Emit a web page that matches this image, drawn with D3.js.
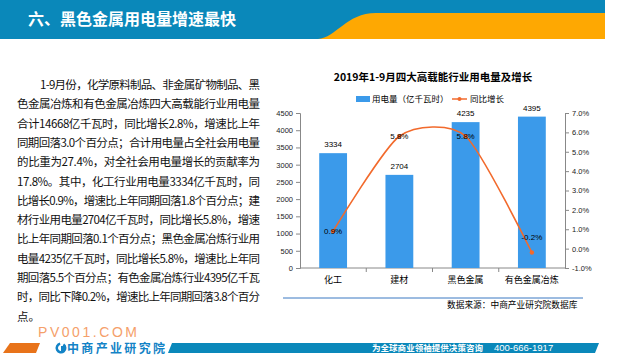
<!DOCTYPE html>
<html>
<head>
<meta charset="utf-8">
<script src="https://cdn.jsdelivr.net/npm/d3@7"></script>
<style>
  html, body { margin: 0; padding: 0; background: #fff; }
  svg { display: block; font-family: "Noto Sans CJK SC", "Liberation Sans", sans-serif; }
</style>
</head>
<body>
<svg id="chart" width="640" height="360"></svg>
<script>
// chart data
const categories = ['化工', '建材', '黑色金属', '有色金属冶炼'];
const usage = [3334, 2704, 4235, 4395];      // 用电量（亿千瓦时）
const growth = [0.9, 5.8, 5.8, -0.2];        // 同比增长 %
const leftTicks = [0, 500, 1000, 1500, 2000, 2500, 3000, 3500, 4000, 4500];
const rightTicks = [-1, 0, 1, 2, 3, 4, 5, 6, 7];

const pageTitle = '六、黑色金属用电量增速最快';
const chartTitle = '2019年1-9月四大高载能行业用电量及增长';
const legendNames = ['用电量（亿千瓦时）', '同比增长'];
const sourceText = '数据来源：中商产业研究院数据库';

const paragraph = [
    '1-9月份，化学原料制品、非金属矿物制品、黑',
    '色金属冶炼和有色金属冶炼四大高载能行业用电量',
    '合计14668亿千瓦时，同比增长2.8%，增速比上年',
    '同期回落3.0个百分点；合计用电量占全社会用电量',
    '的比重为27.4%，对全社会用电量增长的贡献率为',
    '17.8%。其中，化工行业用电量3334亿千瓦时，同',
    '比增长0.9%，增速比上年同期回落1.8个百分点；建',
    '材行业用电量2704亿千瓦时，同比增长5.8%，增速',
    '比上年同期回落0.1个百分点；黑色金属冶炼行业用',
    '电量4235亿千瓦时，同比增长5.8%，增速比上年同',
    '期回落5.5个百分点；有色金属冶炼行业4395亿千瓦',
    '时，同比下降0.2%，增速比上年同期回落3.8个百分',
    '点。'
];

const blue = '#0a88ba';
const barColor = '#3b9aea';
const lineColor = '#f26a2c';

const svg = d3.select('#chart');

// header bar
svg.append('rect').attr('x', 0).attr('y', 0).attr('width', 605).attr('height', 39).attr('fill', blue);
svg.append('path')
    .attr('d', 'M318,39 C336,38 346,13 376,13 L605,13 L605,39 Z')
    .attr('fill', '#fea802');
svg.append('text')
    .attr('x', 28).attr('y', 25)
    .attr('fill', '#fff')
    .attr('font-size', 16)
    .attr('font-weight', 'bold')
    .text(pageTitle);

// paragraph, justified line by line
const para = svg.append('g').attr('font-size', 11.5).attr('fill', '#111');
paragraph.forEach((line, i) => {
    const x0 = i === 0 ? 40 : 17;
    const t = para.append('text')
        .attr('x', x0)
        .attr('y', 89 + i * 19.3)
        .text(line);
    if (i < paragraph.length - 1) {
        t.attr('textLength', 260 - x0).attr('lengthAdjust', 'spacing');
    }
});

// scales
const x = d3.scaleBand().domain(categories).range([300, 565]);
const yL = d3.scaleLinear().domain([0, 4500]).range([268, 113]);
const yR = d3.scaleLinear().domain([-1, 7]).range([268, 113]);
const bw = x.bandwidth();

// chart title
svg.append('text')
    .attr('x', 433).attr('y', 81)
    .attr('text-anchor', 'middle')
    .attr('font-size', 10.5)
    .attr('font-weight', 'bold')
    .text(chartTitle);

// legend
const legend = svg.append('g').attr('font-size', 8.5);
legend.append('rect').attr('x', 356).attr('y', 96).attr('width', 14).attr('height', 6).attr('fill', barColor);
legend.append('text').attr('x', 372).attr('y', 102).text(legendNames[0]);
legend.append('line').attr('x1', 452).attr('x2', 467).attr('y1', 99).attr('y2', 99)
    .attr('stroke', lineColor).attr('stroke-width', 1.5);
legend.append('circle').attr('cx', 459.5).attr('cy', 99).attr('r', 2).attr('fill', lineColor);
legend.append('text').attr('x', 470).attr('y', 102).text(legendNames[1]);

// axes
function styleAxis(g) {
    g.selectAll('path, line').attr('stroke', '#888');
    g.selectAll('text').attr('font-size', 7.5).attr('fill', '#222')
        .attr('font-family', '"Liberation Sans", Arial, sans-serif');
}

svg.append('g')
    .attr('transform', 'translate(300,0)')
    .call(d3.axisLeft(yL).tickValues(leftTicks).tickSize(4).tickSizeOuter(4).tickPadding(3)
        .tickFormat(d3.format('d')))
    .call(styleAxis);

svg.append('g')
    .attr('transform', 'translate(565,0)')
    .call(d3.axisRight(yR).tickValues(rightTicks).tickSize(4).tickSizeOuter(4).tickPadding(3)
        .tickFormat(d => d.toFixed(1) + '%'))
    .call(styleAxis);

// x axis with ticks at category boundaries
const xAxis = svg.append('g').attr('transform', 'translate(0,268)');
xAxis.append('line').attr('x1', 300).attr('x2', 565).attr('stroke', '#888');
xAxis.selectAll('.bound')
    .data(categories.slice(1))
    .join('line')
    .attr('class', 'bound')
    .attr('x1', d => x(d)).attr('x2', d => x(d))
    .attr('y1', 0).attr('y2', 4)
    .attr('stroke', '#888');
xAxis.selectAll('.cat')
    .data(categories)
    .join('text')
    .attr('class', 'cat')
    .attr('x', d => x(d) + bw / 2)
    .attr('y', 15)
    .attr('text-anchor', 'middle')
    .attr('font-size', 9)
    .text(d => d);

// bars
const rows = categories.map((c, i) => ({ cat: c, v: usage[i], g: growth[i] }));

svg.selectAll('.bar')
    .data(rows)
    .join('rect')
    .attr('class', 'bar')
    .attr('x', d => x(d.cat) + bw * 0.29)
    .attr('width', bw * 0.42)
    .attr('y', d => yL(d.v))
    .attr('height', d => yL(0) - yL(d.v))
    .attr('fill', barColor);

svg.selectAll('.barlabel')
    .data(rows)
    .join('text')
    .attr('class', 'barlabel')
    .attr('x', d => x(d.cat) + bw / 2)
    .attr('y', d => yL(d.v) - 6)
    .attr('text-anchor', 'middle')
    .attr('font-size', 8)
    .attr('font-family', '"Liberation Sans", Arial, sans-serif')
    .text(d => d.v);

// smoothed growth line
const line = d3.line()
    .x(d => x(d.cat) + bw / 2)
    .y(d => yR(d.g))
    .curve(d3.curveCardinal.tension(0.3));

svg.append('path')
    .datum(rows)
    .attr('d', line)
    .attr('fill', 'none')
    .attr('stroke', lineColor)
    .attr('stroke-width', 1.6);

svg.selectAll('.dot')
    .data(rows)
    .join('circle')
    .attr('class', 'dot')
    .attr('cx', d => x(d.cat) + bw / 2)
    .attr('cy', d => yR(d.g))
    .attr('r', 2.2)
    .attr('fill', lineColor);

svg.selectAll('.linelabel')
    .data(rows)
    .join('text')
    .attr('class', 'linelabel')
    .attr('x', d => x(d.cat) + bw / 2)
    .attr('y', d => yR(d.g) + (d.g < 0 ? -13 : 3))
    .attr('text-anchor', 'middle')
    .attr('font-size', 8)
    .attr('font-family', '"Liberation Sans", Arial, sans-serif')
    .text(d => d.g.toFixed(1) + '%');

// source line
svg.append('line')
    .attr('x1', 283).attr('x2', 583).attr('y1', 298).attr('y2', 298)
    .attr('stroke', '#3a78c2').attr('stroke-width', 1);
svg.append('text')
    .attr('x', 447).attr('y', 308)
    .attr('font-size', 8.7)
    .text(sourceText);

// footer
svg.append('text')
    .attr('x', 38).attr('y', 337)
    .attr('font-size', 14)
    .attr('font-family', '"Liberation Sans", Arial, sans-serif')
    .attr('fill', '#f5a06a')
    .attr('textLength', 99)
    .attr('lengthAdjust', 'spacing')
    .text('PV001.COM');

svg.append('path').attr('d', 'M10,343 L40,343 L36,353 L3,353 Z').attr('fill', '#e8731a');
svg.append('path').attr('d', 'M172,343 L599,343 L595,353 L168,353 Z').attr('fill', blue);

// logo
const logo = svg.append('g');
logo.append('path')
    .attr('d', d3.arc()({ innerRadius: 3, outerRadius: 5.5, startAngle: 0.6, endAngle: 2 * Math.PI - 0.2 }))
    .attr('transform', 'translate(61,348)')
    .attr('fill', '#1383c6');
logo.append('rect').attr('x', 61).attr('y', 346).attr('width', 3).attr('height', 6).attr('fill', '#1383c6');
logo.append('text')
    .attr('x', 67).attr('y', 353)
    .attr('font-size', 12)
    .attr('font-weight', 'bold')
    .attr('fill', '#1383c6')
    .attr('textLength', 98)
    .attr('lengthAdjust', 'spacing')
    .text('中商产业研究院');

svg.append('text')
    .attr('x', 372).attr('y', 351)
    .attr('font-size', 8.5)
    .attr('font-weight', 'bold')
    .attr('fill', '#fff')
    .attr('textLength', 111)
    .attr('lengthAdjust', 'spacing')
    .text('为全球商业领袖提供决策咨询');
svg.append('text')
    .attr('x', 494).attr('y', 351)
    .attr('font-size', 9.5)
    .attr('font-family', '"Liberation Sans", Arial, sans-serif')
    .attr('fill', '#fff')
    .text('400-666-1917');
</script>
</body>
</html>
